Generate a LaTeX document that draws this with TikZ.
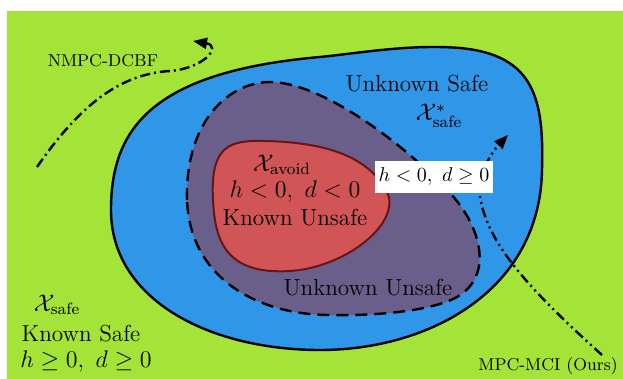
\documentclass[tikz,border=0pt]{standalone}
\usepackage{amsmath,amssymb}
\usepackage{tikz}
\usetikzlibrary{arrows.meta}

\definecolor{knowngreen}{HTML}{A4E337}
\definecolor{unknownblue}{HTML}{2F96E8}
\definecolor{unsafepurple}{HTML}{6A5F8A}
\definecolor{avoidred}{HTML}{D15456}
\definecolor{avoidborder}{HTML}{6A1515}

\tikzset{
    bigtext/.style={font=\fontsize{11.6}{14}\selectfont, inner sep=0pt},
    smalltext/.style={font=\fontsize{8.6}{10}\selectfont, inner sep=0pt},
    traj/.style={line width=1.2pt, -{Triangle[length=7pt,width=5.5pt]}},
}

\begin{document}
\begin{tikzpicture}[x=0.5pt,y=-0.5pt]
    \useasboundingbox (0,0) rectangle (623,379);
    \fill[white] (0,0) rectangle (623,379);
    \fill[knowngreen] (7,11) rectangle (623,379);

    \draw[line width=1.2pt, fill=unknownblue] (320,57)
        .. controls (150,72) and (111,130) .. (111,210)
        .. controls (111,300) and (210,350) .. (320,350)
        .. controls (430,350) and (540,290) .. (542,170)
        .. controls (544,100) and (535,55) .. (460,48)
        .. controls (410,44) and (360,53) .. (320,57) -- cycle;
    \draw[line width=1.2pt, dash pattern=on 6pt off 3.5pt, fill=unsafepurple] (187,200)
        .. controls (185,120) and (230,82) .. (270,82)
        .. controls (320,82) and (400,140) .. (450,193)
        .. controls (480,225) and (495,275) .. (457,297)
        .. controls (430,312) and (370,316) .. (330,315)
        .. controls (260,315) and (190,280) .. (187,200) -- cycle;
    \draw[line width=1pt, draw=avoidborder, fill=avoidred] (213,200)
        .. controls (210,145) and (230,140) .. (265,141)
        .. controls (310,142) and (370,150) .. (389,197)
        .. controls (395,230) and (340,268) .. (290,271)
        .. controls (225,275) and (215,240) .. (213,200) -- cycle;

    \coordinate (nmpcstart) at (37,167);
    \coordinate (nmpcend) at (193,41);
    \coordinate (mcistart) at (602,355);
    \coordinate (mcimid) at (480,197);
    \coordinate (mciend) at (508,135);
    \draw[traj, dash pattern=on 5pt off 2pt on 1pt off 2pt] (nmpcstart)
        .. controls (80,105) and (120,74) .. (170,71)
        .. controls (205,68) and (222,46) .. (nmpcend);
    \draw[traj, dash pattern=on 5pt off 2pt on 1pt off 2pt on 1pt off 2pt] (mcistart)
        .. controls (530,290) and (488,245) .. (mcimid)
        .. controls (477,175) and (492,152) .. (mciend);

    \node[bigtext] (avoidset) at (282,165) {$\mathcal{X}_{\text{avoid}}$};
    \node[bigtext] (avoidcond) at (295,192) {$h<0,\ d<0$};
    \node[bigtext] (avoidname) at (295,218) {Known Unsafe};
    \node[bigtext] (unsafename) at (368,288) {Unknown Unsafe};
    \node[bigtext] (safename) at (417,84) {Unknown Safe};
    \node[bigtext] (safeset) at (439,116) {$\mathcal{X}^{*}_{\text{safe}}$};
    \node[bigtext] (knownset) at (57,305) {$\mathcal{X}_{\text{safe}}$};
    \node[bigtext] (knownname) at (81,334) {Known Safe};
    \node[bigtext] (knowncond) at (86,362) {$h\geq 0,\ d\geq 0$};
    \node[fill=white, font=\fontsize{9.7}{12}\selectfont, inner xsep=2pt,
        minimum height=15pt] (boundary) at (434,177) {$h<0,\ d\geq 0$};
    \node[smalltext] (nmpclabel) at (103,61) {NMPC-DCBF};
    \node[smalltext] (mcilabel) at (548,366) {MPC-MCI (Ours)};
\end{tikzpicture}
\end{document}
